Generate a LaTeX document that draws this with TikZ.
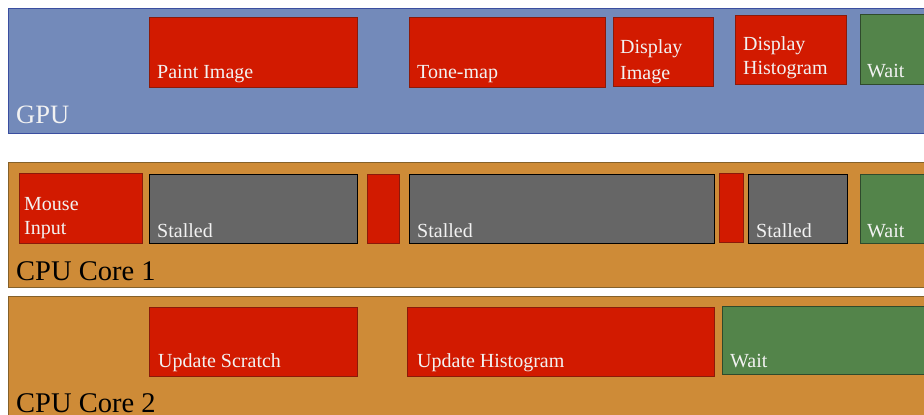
\documentclass[tikz,border=0pt]{standalone}
\usepackage{fontspec}
\setmainfont{Liberation Serif}
\definecolor{gpuFill}{HTML}{738ABA}
\definecolor{gpuLine}{HTML}{3A4EA0}
\definecolor{cpuFill}{HTML}{CE8B37}
\definecolor{cpuLine}{HTML}{85612A}
\definecolor{taskRed}{HTML}{D21A00}
\definecolor{taskRedLine}{HTML}{8B1A0A}
\definecolor{stallGray}{HTML}{666666}
\definecolor{waitGreen}{HTML}{53844A}
\definecolor{waitLine}{HTML}{2F4A2C}
\definecolor{textWhite}{HTML}{F2F2F2}
\tikzset{
  band/.style={anchor=north west, inner sep=0pt, line width=1.2pt},
  gpuband/.style={band, fill=gpuFill, draw=gpuLine},
  cpuband/.style={band, fill=cpuFill, draw=cpuLine},
  task/.style={anchor=north west, inner sep=0pt, line width=1.2pt},
  redtask/.style={task, fill=taskRed, draw=taskRedLine},
  graytask/.style={task, fill=stallGray, draw=black},
  greentask/.style={task, fill=waitGreen, draw=waitLine},
  lbl/.style={anchor=base west, inner sep=0pt, text=textWhite, font=\fontsize{20}{24}\selectfont},
  gpulbl/.style={anchor=base west, inner sep=0pt, text=textWhite, font=\fontsize{26.5}{30}\selectfont},
  cpulbl/.style={anchor=base west, inner sep=0pt, font=\fontsize{28.5}{32}\selectfont},
}
% box: name, x, y (top-left), width, height, style
\newcommand\taskrect[6]{\node[#6, minimum width=#4pt, minimum height=#5pt] (#1) at (#2,#3) {};}
\begin{document}
\begin{tikzpicture}[x=1pt,y=-1pt]
\useasboundingbox (0,0) rectangle (924,415);
\clip (0,0) rectangle (924,415);
\fill[white] (0,0) rectangle (924,415);

% --- GPU lane ---
\taskrect{gpu}{8}{8}{940}{125}{gpuband}
\node[gpulbl] (gpuT) at (16,123) {GPU};
\taskrect{paint}{149}{17}{208}{70}{redtask}
\node[lbl] (paintT) at (157,78) {Paint Image};
\taskrect{tone}{409}{17}{196}{70}{redtask}
\node[lbl] (toneT) at (417,78) {Tone-map};
\taskrect{dimg}{613}{17}{100}{69}{redtask}
\node[lbl] (dimgT1) at (620,53) {Display};
\node[lbl] (dimgT2) at (620,79) {Image};
\taskrect{dhist}{735}{15}{111}{69}{redtask}
\node[lbl] (dhistT1) at (743,50) {Display};
\node[lbl] (dhistT2) at (743,74) {Histogram};
\taskrect{gwait}{860}{14}{100}{70}{greentask}
\node[lbl] (gwaitT) at (867,77) {Wait};

% --- CPU core 1 lane ---
\taskrect{core1}{8}{162}{940}{125}{cpuband}
\node[cpulbl] (core1T) at (16,280) {CPU Core 1};
\taskrect{mouse}{19}{173}{123}{70}{redtask}
\node[lbl] (mouseT1) at (24,210) {Mouse};
\node[lbl] (mouseT2) at (24,234) {Input};
\taskrect{stallA}{149}{174}{208}{69}{graytask}
\node[lbl] (stallAT) at (157,237) {Stalled};
\taskrect{smallA}{367}{174}{32}{69}{redtask}
\taskrect{stallB}{409}{174}{305}{69}{graytask}
\node[lbl] (stallBT) at (417,237) {Stalled};
\taskrect{smallB}{719}{173}{24}{69}{redtask}
\taskrect{stallC}{748}{174}{99}{69}{graytask}
\node[lbl] (stallCT) at (756,237) {Stalled};
\taskrect{cwait}{860}{174}{100}{69}{greentask}
\node[lbl] (cwaitT) at (867,237) {Wait};

% --- CPU core 2 lane ---
\taskrect{core2}{8}{296}{940}{140}{cpuband}
\node[cpulbl] (core2T) at (16,412) {CPU Core 2};
\taskrect{scratch}{149}{307}{208}{69}{redtask}
\node[lbl] (scratchT) at (158,367) {Update Scratch};
\taskrect{uhist}{407}{307}{307}{69}{redtask}
\node[lbl] (uhistT) at (417,367) {Update Histogram};
\taskrect{c2wait}{722}{306}{240}{68}{greentask}
\node[lbl] (c2waitT) at (730,367) {Wait};
\end{tikzpicture}
\end{document}
